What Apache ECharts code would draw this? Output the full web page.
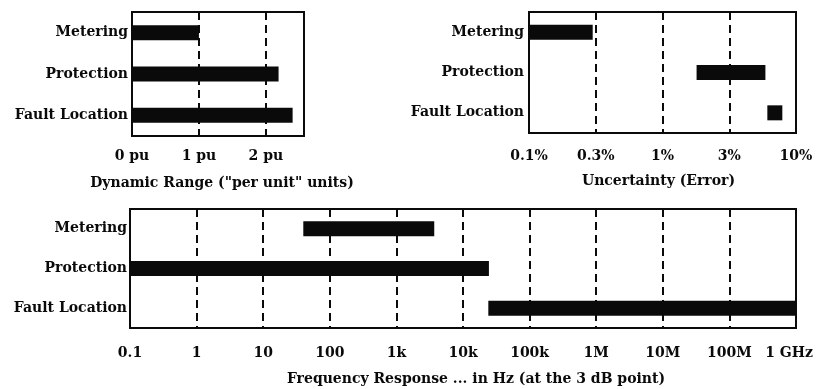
<!DOCTYPE html>
<html><head><meta charset="utf-8">
<script src="https://cdn.jsdelivr.net/npm/echarts@6/dist/echarts.min.js"></script>
<style>html,body{margin:0;padding:0;background:#fff}#c{width:819px;height:389px}</style>
</head><body><div id="c"></div>
<script>
const categories = ['Metering', 'Protection', 'Fault Location'];
// Dynamic range (pu): [start, end]
const rangeStart = [0, 0, 0];
const rangeEnd = [1.0, 2.19, 2.40];
const rangeTicks = ['0 pu', '1 pu', '2 pu'];
// Uncertainty (%): [start, end]
const errStart = [0.1, 1.8, 6.1];
const errEnd = [0.3, 5.9, 7.9];
const errTicks = ['0.1%', '0.3%', '1%', '3%', '10%'];
// Frequency response (Hz): [start, end]
const freqStart = [40, 0.1, 24000];
const freqEnd = [3700, 24500, 1e9];
const freqTicks = ['0.1', '1', '10', '100', '1k', '10k', '100k', '1M', '10M', '100M', '1 GHz'];

const FONT = 'DejaVu Serif';
const FS = 14;
const txt = {color: '#0a0a0a', fontFamily: FONT, fontSize: FS, fontWeight: 'bold'};

function rows(s, e) { return categories.map((c, i) => [i, s[i], e[i]]); }

function renderBar(params, api) {
  const cat = api.value(0);
  const p0 = api.coord([api.value(1), cat]);
  const p1 = api.coord([api.value(2), cat]);
  const h = 15;
  return {
    type: 'rect',
    shape: {x: p0[0], y: p0[1] - h / 2, width: p1[0] - p0[0], height: h},
    style: {fill: '#0a0a0a'}
  };
}

const split = {show: true, lineStyle: {color: '#0a0a0a', type: [8, 5], width: 2}};
const catAxis = (gi, m) => ({
  type: 'category', gridIndex: gi, data: categories, inverse: true,
  axisLine: {show: false}, axisTick: {show: false},
  axisLabel: Object.assign({margin: m}, txt)
});
const grid = (o) => Object.assign({show: true, borderColor: '#0a0a0a', borderWidth: 2, backgroundColor: 'transparent',
  containLabel: false, outerBoundsMode: 'none'}, o);

const SQ10 = Math.sqrt(10);

const option = {
  animation: false,
  grid: [
    grid({left: 132, top: 12, width: 172, height: 124}),
    grid({left: 529, top: 12, width: 267, height: 121}),
    grid({left: 130, top: 209, width: 666, height: 119})
  ],
  xAxis: [
    {
      type: 'value', gridIndex: 0, min: 0, max: 2.57, interval: 1,
      axisLine: {show: false}, axisTick: {show: false}, splitLine: split,
      name: 'Dynamic Range ("per unit" units)', nameLocation: 'middle', nameGap: 40,
      nameTextStyle: Object.assign({padding: [0, 0, 0, 8]}, txt),
      axisLabel: Object.assign({margin: 13, showMaxLabel: false,
        formatter: v => (Math.abs(v - Math.round(v)) < 1e-6 && rangeTicks[Math.round(v)]) || ''}, txt)
    },
    {
      type: 'log', gridIndex: 1, logBase: SQ10, min: 0.1, max: 10,
      axisLine: {show: false}, axisTick: {show: false}, splitLine: split,
      name: 'Uncertainty (Error)', nameLocation: 'middle', nameGap: 41,
      nameTextStyle: Object.assign({padding: [0, 8, 0, 0]}, txt),
      axisLabel: Object.assign({margin: 16, showMinLabel: true, showMaxLabel: true, hideOverlap: false,
        formatter: v => errTicks[Math.round(Math.log(v) / Math.log(SQ10)) + 2] || ''}, txt)
    },
    {
      type: 'log', gridIndex: 2, logBase: 10, min: 0.1, max: 1e9,
      axisLine: {show: false}, axisTick: {show: false}, splitLine: split,
      name: 'Frequency Response ... in Hz (at the 3 dB point)', nameLocation: 'middle', nameGap: 44,
      nameTextStyle: Object.assign({padding: [0, 0, 0, 26]}, txt),
      axisLabel: Object.assign({margin: 18, showMinLabel: true, showMaxLabel: true, hideOverlap: false,
        formatter: v => {
          const i = Math.round(Math.log10(v)) + 1;
          const s = freqTicks[i] || '';
          return i === freqTicks.length - 1 ? '{last|' + s + '}' : s;
        },
        rich: {last: Object.assign({padding: [0, 14, 0, 0]}, txt)}}, txt)
    }
  ],
  yAxis: [catAxis(0, 4), catAxis(1, 5), catAxis(2, 3)],
  series: [
    {type: 'custom', xAxisIndex: 0, yAxisIndex: 0, renderItem: renderBar, data: rows(rangeStart, rangeEnd), encode: {x: [1, 2], y: 0}, clip: true},
    {type: 'custom', xAxisIndex: 1, yAxisIndex: 1, renderItem: renderBar, data: rows(errStart, errEnd), encode: {x: [1, 2], y: 0}, clip: true},
    {type: 'custom', xAxisIndex: 2, yAxisIndex: 2, renderItem: renderBar, data: rows(freqStart, freqEnd), encode: {x: [1, 2], y: 0}, clip: true}
  ]
};
const chart = echarts.init(document.getElementById('c'), null, {renderer: 'canvas'});
chart.setOption(option);
</script></body></html>
